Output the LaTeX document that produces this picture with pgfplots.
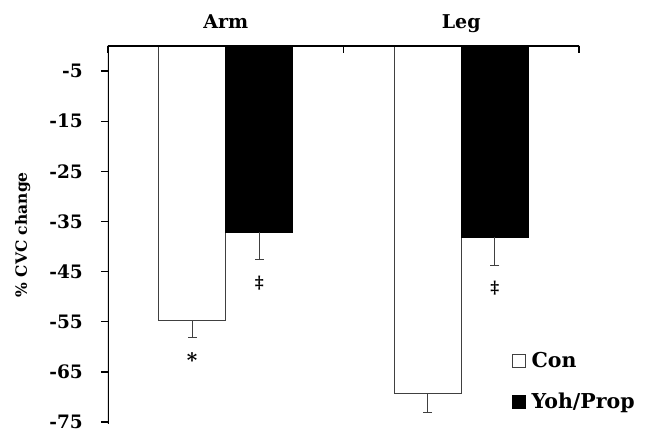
\documentclass[border=0pt]{standalone}
\usepackage{fontspec}
\setmainfont{DejaVu Serif}
\usepackage{pgfplots}
\pgfplotsset{compat=1.18}
\begin{document}
\begin{tikzpicture}
\path[use as bounding box] (0,0) rectangle (650pt,434pt);
\begin{axis}[
  at={(108pt,10.5pt)}, anchor=south west,
  scale only axis, width=471pt, height=377.5pt,
  ybar, bar width=0.285,
  xmin=0, xmax=2, ymin=-75.3, ymax=0,
  axis line style={draw=none},
  xtick pos=upper, xticklabel pos=upper,
  ytick pos=lower, yticklabel pos=lower,
  xtick={0.5,1.5}, xticklabels={Arm,Leg},
  minor xtick={0,1,2},
  major x tick style={draw=none},
  minor x tick style={line width=1.3pt, black},
  xtick align=inside,
  ytick align=outside,
  minor tick length=7pt,
  major tick length=7pt,
  ytick={-75,-65,-55,-45,-35,-25,-15,-5},
  y tick style={line width=1.3pt, black},
  /pgf/number format/assume math mode=true,
  tick label style={font=\bfseries\fontsize{18.5}{21}\selectfont},
  x tick label style={font=\bfseries\fontsize{19}{22}\selectfont, text height=13pt, text depth=4pt, anchor=center, yshift=22pt},
  yticklabel={\pgfmathprintnumber{\tick}\hspace*{15pt}},
  y tick label style={inner xsep=3pt},
  ylabel={\% CVC change},
  ylabel style={font=\bfseries\fontsize{15.5}{18}\selectfont, at={(axis description cs:-0.181,0.5)}, anchor=center},
  legend style={draw=none, fill=none, at={(rel axis cs:0.85,0.20)}, anchor=north west,
    font=\bfseries\fontsize{20.5}{24}\selectfont, row sep=20pt,
    cells={anchor=west}},
  legend image code/.code={\draw[#1, line width=0.9pt] (0pt,-6.5pt) rectangle (13pt,6.5pt); \path (17pt,0pt);},
  error bars/y dir=minus, error bars/y explicit,
  error bars/error mark=-,
  error bars/error bar style={line width=1pt, draw=black!75},
  error bars/error mark options={rotate=90, line width=1pt, draw=black!75, mark size=4.5pt},
]
\addplot[bar shift=-0.1425, fill=white, draw=black!75, line width=1pt]
  coordinates {(0.5,-54.8) +- (0,3.3) (1.5,-69.3) +- (0,3.9)};
\addplot[bar shift=0.1425, fill=black, draw=black, line width=1pt]
  coordinates {(0.5,-37.2) +- (0,5.3) (1.5,-38.1) +- (0,5.6)};
\legend{Con, Yoh/Prop}
\draw[line width=1.3pt, line cap=rect] (rel axis cs:0,0) -- (rel axis cs:0,1) -- (rel axis cs:1,1);
\node[font=\bfseries\fontsize{20}{24}\selectfont] at (axis cs:0.3575,-62.6) {*};
\node[font=\bfseries\fontsize{17}{20}\selectfont] at (axis cs:0.6425,-47.3) {‡};
\node[font=\bfseries\fontsize{17}{20}\selectfont] at (axis cs:1.6425,-48.3) {‡};
\end{axis}
\end{tikzpicture}
\end{document}
